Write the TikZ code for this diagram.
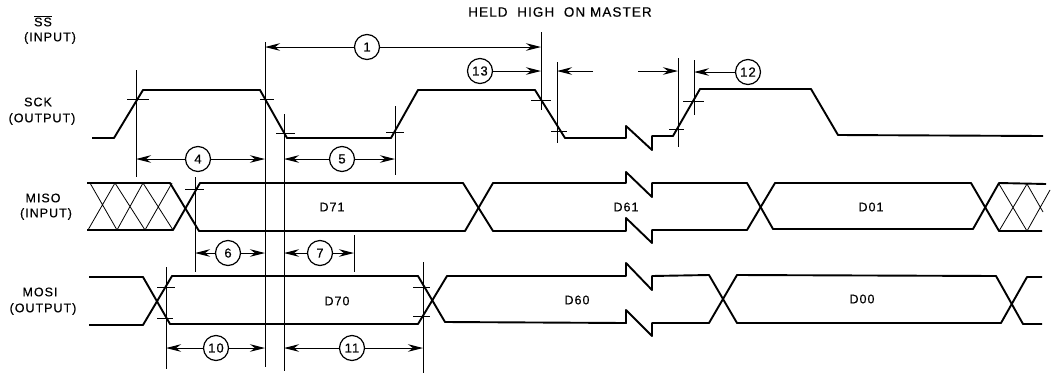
\documentclass[tikz,border=0pt]{standalone}
\usepackage{fontspec}
\setmainfont[LetterSpace=8,FakeBold=0.5]{Liberation Sans}
\usetikzlibrary{arrows.meta}
\begin{document}
\begin{tikzpicture}[x=1pt, y=-1pt, >={Stealth[length=15pt, width=7.5pt]},
        wave/.style={line width=1.9pt, line join=round},
        guide/.style={line width=0.8pt},
        hatch/.style={line width=0.8pt},
        dim/.style={->, line width=1pt},
        num/.style={draw, circle, line width=1.2pt, minimum size=25pt, inner sep=0pt, font=\fontsize{13}{15}\selectfont, fill=white},
        caption/.style={font=\fontsize{12.5}{15}\selectfont, inner sep=0pt},
        data/.style={font=\fontsize{12.5}{15}\selectfont, inner sep=0pt}]
    \useasboundingbox (0,0) rectangle (1058,373);
    % signal names
    \node[caption, font=\fontsize{13.5}{15}\selectfont] (heldhigh) at (560,12) {HELD\ \ HIGH\ \ ON MASTER};
    \node[caption] (ssname) at (43,21) {$\overline{\mbox{SS}}$};
    \node[caption] (ssdir) at (50,38) {(INPUT)};
    \node[caption] (sckname) at (38,102) {SCK};
    \node[caption] (sckdir) at (42,119) {(OUTPUT)};
    \node[caption] (misoname) at (43,198) {MISO};
    \node[caption] (misodir) at (46,214) {(INPUT)};
    \node[caption] (mosiname) at (40,292) {MOSI};
    \node[caption] (mosidir) at (43,309) {(OUTPUT)};
    % SCK
    \draw[wave] (92,138) -- (114,138) -- (143,90) -- (260,90) -- (287,138) -- (391,138) -- (418,90) -- (535,90)
        -- (565,138) -- (626,138) -- (626,126) -- (652,150) -- (652,136) -- (673,136) -- (700,89) -- (811,89)
        -- (838,135) -- (1043,136);
    % MISO
    \draw[wave] (87,183) -- (170,183) -- (199,231) -- (465,231) -- (493,183) -- (626,183) -- (626,172) -- (652,197)
        -- (652,183) -- (747,183) -- (773,229) -- (973,229) -- (999,183) -- (1046,184);
    \draw[wave] (87,230) -- (173,230) -- (200,183) -- (463,183) -- (493,231) -- (626,231) -- (626,218) -- (652,243)
        -- (652,230) -- (747,230) -- (775,183) -- (971,183) -- (999,231) -- (1042,231);
    \draw[hatch] (90,183) -- (117,230) (115,183) -- (88,230) (115,183) -- (145,230) (143,183) -- (117,230)
        (143,183) -- (173,230) (172,183) -- (145,230);
    \draw[hatch] (999,184) -- (1027,231) (999,231) -- (1027,184) (1027,184) -- (1043,212) (1027,231) -- (1050,190);
    % MOSI
    \draw[wave] (89,277) -- (143,277) -- (170,324) -- (418,324) -- (447,276) -- (626,276) -- (626,263) -- (652,290)
        -- (652,276) -- (709,275) -- (737,323) -- (1001,323) -- (1027,277) -- (1042,277);
    \draw[wave] (89,325) -- (143,325) -- (172,276) -- (418,276) -- (445,322) -- (626,323) -- (626,310) -- (652,336)
        -- (652,323) -- (709,323) -- (737,275) -- (996,276) -- (1023,324) -- (1042,324);
    % data labels
    \node[data] (d71) at (332,207) {D71};
    \node[data] (d61) at (626,207) {D61};
    \node[data] (d01) at (871,207) {D01};
    \node[data] (d70) at (337,301) {D70};
    \node[data] (d60) at (577,300) {D60};
    \node[data] (d00) at (862,299) {D00};
    % guide lines and their ticks
    \draw[guide] (136,70) -- (136,177) (127,99) -- (149,99);
    \draw[guide] (265,42) -- (265,367) (260,99) -- (274,99);
    \draw[guide] (284,114) -- (284,371) (276,133) -- (295,133);
    \draw[guide] (395,106) -- (395,175) (386,132) -- (404,132);
    \draw[guide] (541,32) -- (541,110) (531,100) -- (551,100);
    \draw[guide] (557,62) -- (557,143) (551,131) -- (567,131);
    \draw[guide] (678,58) -- (678,147) (669,129) -- (684,129);
    \draw[guide] (694,60) -- (694,115) (683,101) -- (704,101);
    \draw[guide] (195,177) -- (195,272) (185,189) -- (204,189);
    \draw[guide] (354,235) -- (354,272);
    \draw[guide] (166,267) -- (166,369) (157,287) -- (175,287) (157,318) -- (173,318);
    \draw[guide] (423,262) -- (423,373) (413,287) -- (430,287) (413,316) -- (430,316);
    % timing numbers
    \node[num] (n1) at (367,47) {1};
    \node[num] (n13) at (480,71) {13};
    \node[num] (n12) at (748,72) {12};
    \node[num] (n4) at (198,159) {4};
    \node[num] (n5) at (342,159) {5};
    \node[num] (n6) at (228,253) {6};
    \node[num] (n7) at (320,253) {7};
    \node[num] (n10) at (216,348) {10};
    \node[num] (n11) at (352,348) {11};
    \coordinate (n1l) at (265,47);
    \coordinate (n1r) at (541,47);
    \coordinate (n13r) at (541,71);
    \coordinate (n12l) at (694,72);
    \coordinate (n4l) at (136,159);
    \coordinate (n4r) at (265,159);
    \coordinate (n5l) at (284,159);
    \coordinate (n5r) at (395,159);
    \coordinate (n6l) at (195,253);
    \coordinate (n6r) at (265,253);
    \coordinate (n7l) at (284,253);
    \coordinate (n7r) at (354,253);
    \coordinate (n10l) at (166,348);
    \coordinate (n10r) at (265,348);
    \coordinate (n11l) at (284,348);
    \coordinate (n11r) at (423,348);
    \coordinate (gapla) at (557,71);
    \coordinate (gaplb) at (593,71);
    \coordinate (gapra) at (638,71);
    \coordinate (gaprb) at (678,71);
    \draw[dim] (n1) -- (n1l);
    \draw[dim] (n1) -- (n1r);
    \draw[dim] (n13) -- (n13r);
    \draw[dim] (n12) -- (n12l);
    \draw[dim] (n4) -- (n4l);
    \draw[dim] (n4) -- (n4r);
    \draw[dim] (n5) -- (n5l);
    \draw[dim] (n5) -- (n5r);
    \draw[dim] (n6) -- (n6l);
    \draw[dim] (n6) -- (n6r);
    \draw[dim] (n7) -- (n7l);
    \draw[dim] (n7) -- (n7r);
    \draw[dim] (n10) -- (n10l);
    \draw[dim] (n10) -- (n10r);
    \draw[dim] (n11) -- (n11l);
    \draw[dim] (n11) -- (n11r);
    \draw[dim] (gaplb) -- (gapla);
    \draw[dim] (gapra) -- (gaprb);
\end{tikzpicture}
\end{document}
